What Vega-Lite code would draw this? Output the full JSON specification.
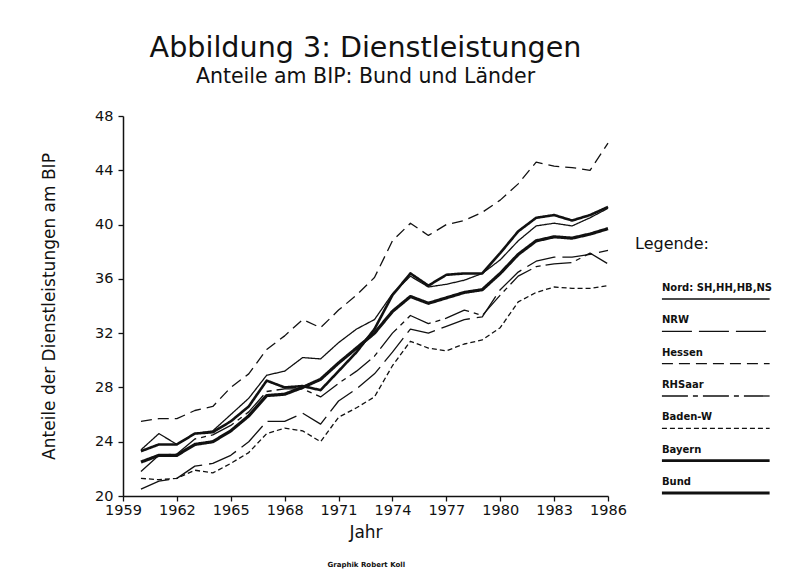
{
  "$schema": "https://vega.github.io/schema/vega-lite/v6.json",
  "background": "white",
  "padding": {"left": 40, "top": 33, "right": 5, "bottom": 4},
  "config": {
    "font": "DejaVu Sans",
    "view": {"stroke": null},
    "axis": {"labelFont": "DejaVu Sans", "titleFont": "DejaVu Sans", "labelColor": "#111", "titleColor": "#111", "domainColor": "#111", "tickColor": "#111", "grid": false},
    "title": {"color": "#111", "subtitleColor": "#111"}
  },
  "title": {"text": "Graphik Robert Koll", "orient": "bottom", "anchor": "start", "dx": 287, "offset": 20, "fontSize": 7, "fontWeight": "bold"},
  "bounds": "flush",
  "spacing": 27,
  "datasets": {
    "werte": [
      {"Jahr": 1960, "Region": "Hessen", "Anteil": 25.5}, {"Jahr": 1961, "Region": "Hessen", "Anteil": 25.7}, {"Jahr": 1962, "Region": "Hessen", "Anteil": 25.7}, {"Jahr": 1963, "Region": "Hessen", "Anteil": 26.3}, {"Jahr": 1964, "Region": "Hessen", "Anteil": 26.6}, {"Jahr": 1965, "Region": "Hessen", "Anteil": 28.0}, {"Jahr": 1966, "Region": "Hessen", "Anteil": 29.0}, {"Jahr": 1967, "Region": "Hessen", "Anteil": 30.8}, {"Jahr": 1968, "Region": "Hessen", "Anteil": 31.8}, {"Jahr": 1969, "Region": "Hessen", "Anteil": 33.0}, {"Jahr": 1970, "Region": "Hessen", "Anteil": 32.4}, {"Jahr": 1971, "Region": "Hessen", "Anteil": 33.7}, {"Jahr": 1972, "Region": "Hessen", "Anteil": 34.8}, {"Jahr": 1973, "Region": "Hessen", "Anteil": 36.1}, {"Jahr": 1974, "Region": "Hessen", "Anteil": 38.8}, {"Jahr": 1975, "Region": "Hessen", "Anteil": 40.1}, {"Jahr": 1976, "Region": "Hessen", "Anteil": 39.2}, {"Jahr": 1977, "Region": "Hessen", "Anteil": 40.0}, {"Jahr": 1978, "Region": "Hessen", "Anteil": 40.3}, {"Jahr": 1979, "Region": "Hessen", "Anteil": 40.9}, {"Jahr": 1980, "Region": "Hessen", "Anteil": 41.8}, {"Jahr": 1981, "Region": "Hessen", "Anteil": 43.0}, {"Jahr": 1982, "Region": "Hessen", "Anteil": 44.6}, {"Jahr": 1983, "Region": "Hessen", "Anteil": 44.3}, {"Jahr": 1984, "Region": "Hessen", "Anteil": 44.2}, {"Jahr": 1985, "Region": "Hessen", "Anteil": 44.0}, {"Jahr": 1986, "Region": "Hessen", "Anteil": 46.0},
      {"Jahr": 1960, "Region": "Nord:  SH,HH,HB,NS", "Anteil": 23.4}, {"Jahr": 1961, "Region": "Nord:  SH,HH,HB,NS", "Anteil": 24.6}, {"Jahr": 1962, "Region": "Nord:  SH,HH,HB,NS", "Anteil": 23.8}, {"Jahr": 1963, "Region": "Nord:  SH,HH,HB,NS", "Anteil": 24.6}, {"Jahr": 1964, "Region": "Nord:  SH,HH,HB,NS", "Anteil": 24.8}, {"Jahr": 1965, "Region": "Nord:  SH,HH,HB,NS", "Anteil": 26.0}, {"Jahr": 1966, "Region": "Nord:  SH,HH,HB,NS", "Anteil": 27.2}, {"Jahr": 1967, "Region": "Nord:  SH,HH,HB,NS", "Anteil": 28.9}, {"Jahr": 1968, "Region": "Nord:  SH,HH,HB,NS", "Anteil": 29.2}, {"Jahr": 1969, "Region": "Nord:  SH,HH,HB,NS", "Anteil": 30.2}, {"Jahr": 1970, "Region": "Nord:  SH,HH,HB,NS", "Anteil": 30.1}, {"Jahr": 1971, "Region": "Nord:  SH,HH,HB,NS", "Anteil": 31.3}, {"Jahr": 1972, "Region": "Nord:  SH,HH,HB,NS", "Anteil": 32.3}, {"Jahr": 1973, "Region": "Nord:  SH,HH,HB,NS", "Anteil": 33.0}, {"Jahr": 1974, "Region": "Nord:  SH,HH,HB,NS", "Anteil": 34.9}, {"Jahr": 1975, "Region": "Nord:  SH,HH,HB,NS", "Anteil": 36.2}, {"Jahr": 1976, "Region": "Nord:  SH,HH,HB,NS", "Anteil": 35.4}, {"Jahr": 1977, "Region": "Nord:  SH,HH,HB,NS", "Anteil": 35.6}, {"Jahr": 1978, "Region": "Nord:  SH,HH,HB,NS", "Anteil": 35.9}, {"Jahr": 1979, "Region": "Nord:  SH,HH,HB,NS", "Anteil": 36.4}, {"Jahr": 1980, "Region": "Nord:  SH,HH,HB,NS", "Anteil": 37.4}, {"Jahr": 1981, "Region": "Nord:  SH,HH,HB,NS", "Anteil": 38.8}, {"Jahr": 1982, "Region": "Nord:  SH,HH,HB,NS", "Anteil": 39.9}, {"Jahr": 1983, "Region": "Nord:  SH,HH,HB,NS", "Anteil": 40.1}, {"Jahr": 1984, "Region": "Nord:  SH,HH,HB,NS", "Anteil": 39.9}, {"Jahr": 1985, "Region": "Nord:  SH,HH,HB,NS", "Anteil": 40.5}, {"Jahr": 1986, "Region": "Nord:  SH,HH,HB,NS", "Anteil": 41.2},
      {"Jahr": 1960, "Region": "Bayern", "Anteil": 23.3}, {"Jahr": 1961, "Region": "Bayern", "Anteil": 23.8}, {"Jahr": 1962, "Region": "Bayern", "Anteil": 23.8}, {"Jahr": 1963, "Region": "Bayern", "Anteil": 24.6}, {"Jahr": 1964, "Region": "Bayern", "Anteil": 24.7}, {"Jahr": 1965, "Region": "Bayern", "Anteil": 25.5}, {"Jahr": 1966, "Region": "Bayern", "Anteil": 26.6}, {"Jahr": 1967, "Region": "Bayern", "Anteil": 28.5}, {"Jahr": 1968, "Region": "Bayern", "Anteil": 28.0}, {"Jahr": 1969, "Region": "Bayern", "Anteil": 28.1}, {"Jahr": 1970, "Region": "Bayern", "Anteil": 27.8}, {"Jahr": 1971, "Region": "Bayern", "Anteil": 29.2}, {"Jahr": 1972, "Region": "Bayern", "Anteil": 30.6}, {"Jahr": 1973, "Region": "Bayern", "Anteil": 32.3}, {"Jahr": 1974, "Region": "Bayern", "Anteil": 34.8}, {"Jahr": 1975, "Region": "Bayern", "Anteil": 36.4}, {"Jahr": 1976, "Region": "Bayern", "Anteil": 35.5}, {"Jahr": 1977, "Region": "Bayern", "Anteil": 36.3}, {"Jahr": 1978, "Region": "Bayern", "Anteil": 36.4}, {"Jahr": 1979, "Region": "Bayern", "Anteil": 36.4}, {"Jahr": 1980, "Region": "Bayern", "Anteil": 37.9}, {"Jahr": 1981, "Region": "Bayern", "Anteil": 39.5}, {"Jahr": 1982, "Region": "Bayern", "Anteil": 40.5}, {"Jahr": 1983, "Region": "Bayern", "Anteil": 40.7}, {"Jahr": 1984, "Region": "Bayern", "Anteil": 40.3}, {"Jahr": 1985, "Region": "Bayern", "Anteil": 40.7}, {"Jahr": 1986, "Region": "Bayern", "Anteil": 41.3},
      {"Jahr": 1960, "Region": "Bund", "Anteil": 22.5}, {"Jahr": 1961, "Region": "Bund", "Anteil": 23.0}, {"Jahr": 1962, "Region": "Bund", "Anteil": 23.0}, {"Jahr": 1963, "Region": "Bund", "Anteil": 23.8}, {"Jahr": 1964, "Region": "Bund", "Anteil": 24.0}, {"Jahr": 1965, "Region": "Bund", "Anteil": 24.8}, {"Jahr": 1966, "Region": "Bund", "Anteil": 25.9}, {"Jahr": 1967, "Region": "Bund", "Anteil": 27.4}, {"Jahr": 1968, "Region": "Bund", "Anteil": 27.5}, {"Jahr": 1969, "Region": "Bund", "Anteil": 28.0}, {"Jahr": 1970, "Region": "Bund", "Anteil": 28.6}, {"Jahr": 1971, "Region": "Bund", "Anteil": 29.8}, {"Jahr": 1972, "Region": "Bund", "Anteil": 30.9}, {"Jahr": 1973, "Region": "Bund", "Anteil": 32.0}, {"Jahr": 1974, "Region": "Bund", "Anteil": 33.6}, {"Jahr": 1975, "Region": "Bund", "Anteil": 34.7}, {"Jahr": 1976, "Region": "Bund", "Anteil": 34.2}, {"Jahr": 1977, "Region": "Bund", "Anteil": 34.6}, {"Jahr": 1978, "Region": "Bund", "Anteil": 35.0}, {"Jahr": 1979, "Region": "Bund", "Anteil": 35.2}, {"Jahr": 1980, "Region": "Bund", "Anteil": 36.4}, {"Jahr": 1981, "Region": "Bund", "Anteil": 37.8}, {"Jahr": 1982, "Region": "Bund", "Anteil": 38.8}, {"Jahr": 1983, "Region": "Bund", "Anteil": 39.1}, {"Jahr": 1984, "Region": "Bund", "Anteil": 39.0}, {"Jahr": 1985, "Region": "Bund", "Anteil": 39.3}, {"Jahr": 1986, "Region": "Bund", "Anteil": 39.7},
      {"Jahr": 1960, "Region": "RHSaar", "Anteil": 21.8}, {"Jahr": 1961, "Region": "RHSaar", "Anteil": 23.0}, {"Jahr": 1962, "Region": "RHSaar", "Anteil": 23.1}, {"Jahr": 1963, "Region": "RHSaar", "Anteil": 24.2}, {"Jahr": 1964, "Region": "RHSaar", "Anteil": 24.5}, {"Jahr": 1965, "Region": "RHSaar", "Anteil": 25.2}, {"Jahr": 1966, "Region": "RHSaar", "Anteil": 26.2}, {"Jahr": 1967, "Region": "RHSaar", "Anteil": 27.7}, {"Jahr": 1968, "Region": "RHSaar", "Anteil": 27.9}, {"Jahr": 1969, "Region": "RHSaar", "Anteil": 27.9}, {"Jahr": 1970, "Region": "RHSaar", "Anteil": 27.3}, {"Jahr": 1971, "Region": "RHSaar", "Anteil": 28.3}, {"Jahr": 1972, "Region": "RHSaar", "Anteil": 29.2}, {"Jahr": 1973, "Region": "RHSaar", "Anteil": 30.3}, {"Jahr": 1974, "Region": "RHSaar", "Anteil": 32.0}, {"Jahr": 1975, "Region": "RHSaar", "Anteil": 33.3}, {"Jahr": 1976, "Region": "RHSaar", "Anteil": 32.7}, {"Jahr": 1977, "Region": "RHSaar", "Anteil": 33.1}, {"Jahr": 1978, "Region": "RHSaar", "Anteil": 33.7}, {"Jahr": 1979, "Region": "RHSaar", "Anteil": 33.3}, {"Jahr": 1980, "Region": "RHSaar", "Anteil": 34.8}, {"Jahr": 1981, "Region": "RHSaar", "Anteil": 36.2}, {"Jahr": 1982, "Region": "RHSaar", "Anteil": 36.9}, {"Jahr": 1983, "Region": "RHSaar", "Anteil": 37.1}, {"Jahr": 1984, "Region": "RHSaar", "Anteil": 37.2}, {"Jahr": 1985, "Region": "RHSaar", "Anteil": 37.9}, {"Jahr": 1986, "Region": "RHSaar", "Anteil": 37.1},
      {"Jahr": 1960, "Region": "NRW", "Anteil": 20.5}, {"Jahr": 1961, "Region": "NRW", "Anteil": 21.1}, {"Jahr": 1962, "Region": "NRW", "Anteil": 21.3}, {"Jahr": 1963, "Region": "NRW", "Anteil": 22.2}, {"Jahr": 1964, "Region": "NRW", "Anteil": 22.4}, {"Jahr": 1965, "Region": "NRW", "Anteil": 23.0}, {"Jahr": 1966, "Region": "NRW", "Anteil": 24.0}, {"Jahr": 1967, "Region": "NRW", "Anteil": 25.5}, {"Jahr": 1968, "Region": "NRW", "Anteil": 25.5}, {"Jahr": 1969, "Region": "NRW", "Anteil": 26.1}, {"Jahr": 1970, "Region": "NRW", "Anteil": 25.3}, {"Jahr": 1971, "Region": "NRW", "Anteil": 27.0}, {"Jahr": 1972, "Region": "NRW", "Anteil": 27.9}, {"Jahr": 1973, "Region": "NRW", "Anteil": 29.0}, {"Jahr": 1974, "Region": "NRW", "Anteil": 30.6}, {"Jahr": 1975, "Region": "NRW", "Anteil": 32.3}, {"Jahr": 1976, "Region": "NRW", "Anteil": 32.0}, {"Jahr": 1977, "Region": "NRW", "Anteil": 32.5}, {"Jahr": 1978, "Region": "NRW", "Anteil": 33.0}, {"Jahr": 1979, "Region": "NRW", "Anteil": 33.2}, {"Jahr": 1980, "Region": "NRW", "Anteil": 35.2}, {"Jahr": 1981, "Region": "NRW", "Anteil": 36.5}, {"Jahr": 1982, "Region": "NRW", "Anteil": 37.3}, {"Jahr": 1983, "Region": "NRW", "Anteil": 37.6}, {"Jahr": 1984, "Region": "NRW", "Anteil": 37.6}, {"Jahr": 1985, "Region": "NRW", "Anteil": 37.8}, {"Jahr": 1986, "Region": "NRW", "Anteil": 38.1},
      {"Jahr": 1960, "Region": "Baden-W", "Anteil": 21.3}, {"Jahr": 1961, "Region": "Baden-W", "Anteil": 21.2}, {"Jahr": 1962, "Region": "Baden-W", "Anteil": 21.3}, {"Jahr": 1963, "Region": "Baden-W", "Anteil": 21.9}, {"Jahr": 1964, "Region": "Baden-W", "Anteil": 21.7}, {"Jahr": 1965, "Region": "Baden-W", "Anteil": 22.4}, {"Jahr": 1966, "Region": "Baden-W", "Anteil": 23.2}, {"Jahr": 1967, "Region": "Baden-W", "Anteil": 24.6}, {"Jahr": 1968, "Region": "Baden-W", "Anteil": 25.0}, {"Jahr": 1969, "Region": "Baden-W", "Anteil": 24.8}, {"Jahr": 1970, "Region": "Baden-W", "Anteil": 24.0}, {"Jahr": 1971, "Region": "Baden-W", "Anteil": 25.8}, {"Jahr": 1972, "Region": "Baden-W", "Anteil": 26.5}, {"Jahr": 1973, "Region": "Baden-W", "Anteil": 27.3}, {"Jahr": 1974, "Region": "Baden-W", "Anteil": 29.6}, {"Jahr": 1975, "Region": "Baden-W", "Anteil": 31.4}, {"Jahr": 1976, "Region": "Baden-W", "Anteil": 30.9}, {"Jahr": 1977, "Region": "Baden-W", "Anteil": 30.7}, {"Jahr": 1978, "Region": "Baden-W", "Anteil": 31.2}, {"Jahr": 1979, "Region": "Baden-W", "Anteil": 31.5}, {"Jahr": 1980, "Region": "Baden-W", "Anteil": 32.4}, {"Jahr": 1981, "Region": "Baden-W", "Anteil": 34.3}, {"Jahr": 1982, "Region": "Baden-W", "Anteil": 35.0}, {"Jahr": 1983, "Region": "Baden-W", "Anteil": 35.4}, {"Jahr": 1984, "Region": "Baden-W", "Anteil": 35.3}, {"Jahr": 1985, "Region": "Baden-W", "Anteil": 35.3}, {"Jahr": 1986, "Region": "Baden-W", "Anteil": 35.5}
    ],
    "legende": [
      {"Region": "Nord:  SH,HH,HB,NS"}, {"Region": "NRW"}, {"Region": "Hessen"}, {"Region": "RHSaar"}, {"Region": "Baden-W"}, {"Region": "Bayern"}, {"Region": "Bund"}
    ]
  },
  "hconcat": [
    {
      "width": 485,
      "height": 380,
      "title": {"text": "Abbildung 3: Dienstleistungen", "subtitle": "Anteile am BIP: Bund und Länder", "anchor": "middle", "fontSize": 28.6, "fontWeight": "normal", "subtitleFontSize": 20.5, "subtitlePadding": 4, "offset": 21},
      "data": {"name": "werte"},
      "mark": {"type": "line", "color": "#111", "strokeJoin": "round"},
      "encoding": {
        "x": {"field": "Jahr", "type": "quantitative", "scale": {"domain": [1959, 1986], "nice": false, "zero": false},
          "axis": {"values": [1959, 1962, 1965, 1968, 1971, 1974, 1977, 1980, 1983, 1986], "format": "d", "title": "Jahr", "tickSize": 5, "tickWidth": 1.3, "domainWidth": 1.5, "labelPadding": 2, "labelFontSize": 14.5, "labelFlush": false, "titleFontSize": 17, "titleFontWeight": "normal", "titlePadding": 8}},
        "y": {"field": "Anteil", "type": "quantitative", "scale": {"domain": [20, 48], "nice": false, "zero": false},
          "axis": {"values": [20, 24, 28, 32, 36, 40, 44, 48], "title": "Anteile der Dienstleistungen am BIP", "tickSize": 5, "tickWidth": 1.3, "domainWidth": 1.5, "labelPadding": 5, "labelFontSize": 14.5, "titleFontSize": 17, "titleFontWeight": "normal", "titlePadding": 36}},
        "strokeDash": {"field": "Region", "type": "nominal", "legend": null,
          "scale": {"domain": ["Nord:  SH,HH,HB,NS", "NRW", "Hessen", "RHSaar", "Baden-W", "Bayern", "Bund"], "range": [[1, 0], [30, 7], [11, 6], [26, 5, 5, 5], [5, 3], [1, 0], [1, 0]]}},
        "strokeWidth": {"condition": [{"test": "datum.Region === 'Bund'", "value": 3.2}, {"test": "datum.Region === 'Bayern'", "value": 2.6}], "value": 1.3}
      }
    },
    {
      "width": 140,
      "height": 380,
      "title": {"text": "Legende:", "anchor": "start", "frame": "group", "offset": -136, "fontSize": 16, "fontWeight": "normal"},
      "data": {"name": "legende"},
      "encoding": {
        "y": {"field": "Region", "type": "nominal", "axis": null, "scale": {"type": "point", "padding": 0, "domain": ["Nord:  SH,HH,HB,NS", "NRW", "Hessen", "RHSaar", "Baden-W", "Bayern", "Bund"], "range": [183, 377]}},
        "x": {"datum": 0, "type": "quantitative", "axis": null, "scale": {"domain": [-0.25, 1.05], "nice": false, "zero": false}}
      },
      "layer": [
        {
          "mark": {"type": "rule", "color": "#111"},
          "encoding": {
            "x2": {"datum": 1},
            "strokeDash": {"field": "Region", "type": "nominal", "legend": null,
              "scale": {"domain": ["Nord:  SH,HH,HB,NS", "NRW", "Hessen", "RHSaar", "Baden-W", "Bayern", "Bund"], "range": [[1, 0], [30, 7], [11, 6], [26, 5, 5, 5], [5, 3], [1, 0], [1, 0]]}},
            "strokeWidth": {"condition": [{"test": "datum.Region === 'Bund'", "value": 3.2}, {"test": "datum.Region === 'Bayern'", "value": 2.6}], "value": 1.3}
          }
        },
        {
          "mark": {"type": "text", "align": "left", "baseline": "alphabetic", "dy": -8, "fontSize": 10, "fontWeight": "bold", "color": "#111"},
          "encoding": {"text": {"field": "Region"}}
        }
      ]
    }
  ]
}
